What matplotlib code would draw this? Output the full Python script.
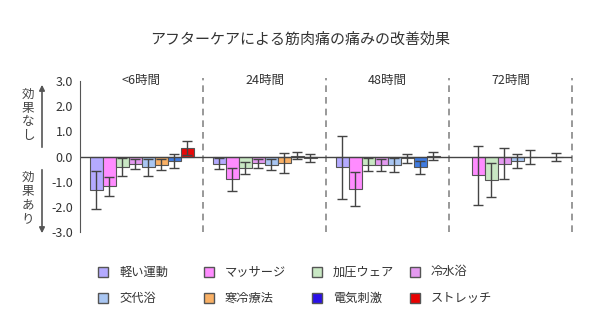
import matplotlib
matplotlib.use("Agg")
import matplotlib.pyplot as plt
import numpy as np
from matplotlib.patches import Rectangle

plt.rcParams['font.family'] = ['Noto Sans CJK JP', 'DejaVu Sans']

groups = ['<6時間', '24時間', '48時間', '72時間']
labels = ['軽い運動', 'マッサージ', '加圧ウェア', '冷水浴', '交代浴', '寒冷療法', '電気刺激', 'ストレッチ']

nan = np.nan
karui    = [-1.32, -0.29, -0.42,   nan]
massage  = [-1.18, -0.91, -1.29, -0.74]
kaatsu   = [-0.41, -0.46, -0.32, -0.92]
reisui   = [-0.29, -0.26, -0.33, -0.28]
kotai    = [-0.43, -0.33, -0.33, -0.18]
kanrei   = [-0.33, -0.26, -0.07, -0.02]
denki    = [-0.17,  0.03, -0.43,   nan]
stretch  = [ 0.33, -0.06,  0.02, -0.02]

karui_e   = [0.76, 0.22, 1.25,  nan]
massage_e = [0.38, 0.46, 0.68, 1.17]
kaatsu_e  = [0.37, 0.23, 0.25, 0.68]
reisui_e  = [0.20, 0.18, 0.25, 0.60]
kotai_e   = [0.34, 0.22, 0.28, 0.27]
kanrei_e  = [0.22, 0.41, 0.18, 0.28]
denki_e   = [0.28, 0.13, 0.25,  nan]
stretch_e = [0.28, 0.14, 0.14, 0.17]

means = [karui, massage, kaatsu, reisui, kotai, kanrei, denki, stretch]
errs = [karui_e, massage_e, kaatsu_e, reisui_e, kotai_e, kanrei_e, denki_e, stretch_e]

bar_colors = ['#b4aaff', '#ff8cff', '#c9e8c4', '#e49af0', '#a9c6f2', '#f9b065', '#3f7be0', '#e80808']
leg_colors = ['#b4aaff', '#ff8cff', '#c9e8c4', '#e49af0', '#a9c6f2', '#f9b065', '#2a10e8', '#e80000']

W, H = 600, 335
fig = plt.figure(figsize=(W / 100, H / 100), dpi=100)
ax = fig.add_axes([80 / W, 1 - 232.3 / H, 492 / W, 151.6 / H])

bw = 13 / 123
x0 = np.arange(len(groups))
for k in range(len(labels)):
    xs = x0 + (16 + 13 * k) / 123
    ax.bar(xs, means[k], width=bw, color=bar_colors[k], edgecolor='#555555', linewidth=0.8, zorder=2)
    ax.errorbar(xs, means[k], yerr=errs[k], fmt='none', ecolor='#444444', elinewidth=1,
                capsize=3.5, capthick=1, zorder=3)

ax.plot([0, len(groups)], [0, 0], color='#444444', lw=1, zorder=2.5)
for i in range(1, len(groups) + 1):
    ax.plot([i, i], [-3, 3.1], color='#888888', lw=1.2, dashes=(4, 3), clip_on=False)

for i, g in enumerate(groups):
    ax.text(i + 0.5, 3.0, g, ha='center', va='center', fontsize=9, color='#333333')

ax.set_xlim(0, len(groups))
ax.set_ylim(-3, 3)
ax.set_yticks(np.arange(-3, 4, 1))
ax.set_yticklabels(['%.1f' % v for v in np.arange(-3, 4, 1)], fontsize=9, color='#333333')
ax.tick_params(axis='y', length=0, pad=5)
ax.set_xticks([])
for s in ['top', 'right', 'bottom']:
    ax.spines[s].set_visible(False)
ax.spines['left'].set_color('#555555')

fig.text(0.5, 1 - 40 / H, 'アフターケアによる筋肉痛の痛みの改善効果', ha='center', va='center',
         fontsize=10.8, color='#333333')

# side annotation
for txt, yc in [('効果なし', 115), ('効果あり', 198)]:
    fig.text(28 / W, 1 - yc / H, '\n'.join(txt), ha='center', va='center', fontsize=9,
             color='#444444', linespacing=1.05)
fig.add_artist(matplotlib.patches.FancyArrowPatch((42 / W, 1 - 150 / H), (42 / W, 1 - 82 / H),
               transform=fig.transFigure, arrowstyle='-|>', mutation_scale=8, color='#555555', lw=1.2))
fig.add_artist(matplotlib.patches.FancyArrowPatch((42 / W, 1 - 167 / H), (42 / W, 1 - 236 / H),
               transform=fig.transFigure, arrowstyle='-|>', mutation_scale=8, color='#555555', lw=1.2))

# legend
col_x = [103, 209, 317, 415]
row_y = [272, 298]
for k, lab in enumerate(labels):
    cx, cy = col_x[k % 4], row_y[k // 4]
    fig.add_artist(Rectangle(((cx - 5) / W, 1 - (cy + 5) / H), 10 / W, 10 / H, transform=fig.transFigure,
                             facecolor=leg_colors[k], edgecolor='#555555', lw=1))
    fig.text((cx + 16) / W, 1 - cy / H, lab, ha='left', va='center', fontsize=8.8, color='#333333')

fig.savefig('out.png', dpi=100)
